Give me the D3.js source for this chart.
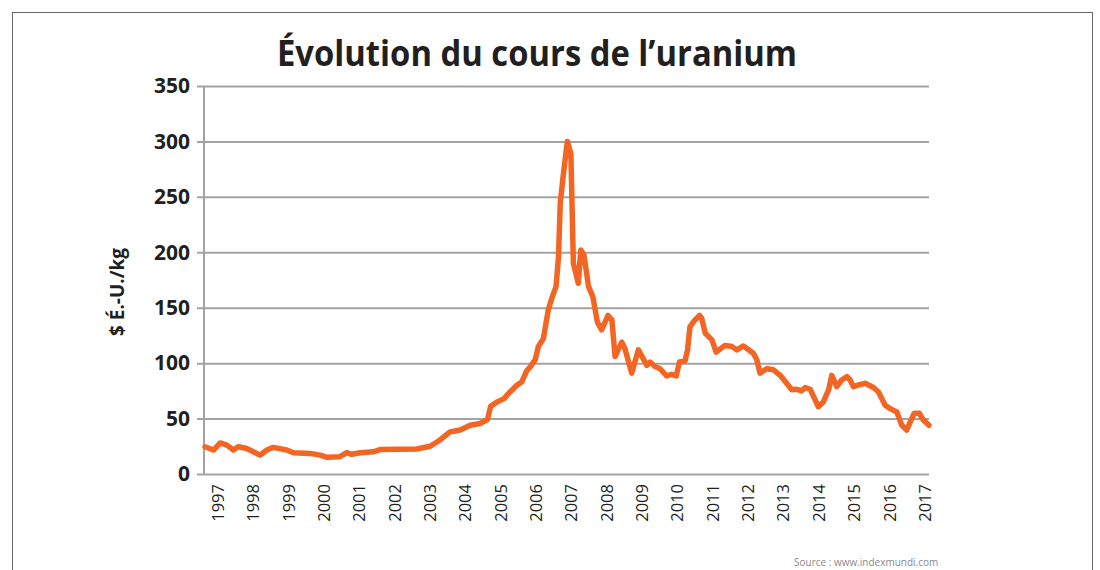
<!DOCTYPE html>
<html>
<head>
<meta charset="utf-8">
<script src="https://cdn.jsdelivr.net/npm/d3@7"></script>
<style>
  body { margin: 0; background: #fff; }
  svg { display: block; }
</style>
</head>
<body>
<div id="chart"></div>
<script>
// Uranium price ($/kg), x as decimal year
const years = [
    1996.63, 1996.87, 1997.06, 1997.25, 1997.43, 1997.57, 1997.81, 1998.00, 1998.19, 1998.38,
    1998.56, 1998.94, 1999.13, 1999.60, 1999.89, 2000.08, 2000.45, 2000.64, 2000.78, 2001.02,
    2001.39, 2001.58, 2002.62, 2003.00, 2003.28, 2003.56, 2003.85, 2004.13, 2004.41, 2004.62,
    2004.71, 2004.89, 2005.09, 2005.26, 2005.45, 2005.59, 2005.73, 2005.83, 2005.97, 2006.06,
    2006.20, 2006.34, 2006.44, 2006.56, 2006.63, 2006.68, 2006.77, 2006.88, 2006.98, 2007.05,
    2007.19, 2007.26, 2007.35, 2007.48, 2007.60, 2007.73, 2007.85, 2008.03, 2008.14, 2008.23,
    2008.42, 2008.51, 2008.70, 2008.89, 2009.13, 2009.22, 2009.36, 2009.50, 2009.69, 2009.83,
    2009.96, 2010.05, 2010.21, 2010.28, 2010.35, 2010.49, 2010.62, 2010.68, 2010.78, 2010.97,
    2011.09, 2011.34, 2011.53, 2011.67, 2011.86, 2012.14, 2012.24, 2012.33, 2012.52, 2012.71,
    2012.90, 2013.23, 2013.37, 2013.51, 2013.61, 2013.75, 2013.89, 2013.98, 2014.12, 2014.27,
    2014.36, 2014.50, 2014.64, 2014.79, 2014.88, 2014.97, 2015.11, 2015.30, 2015.54, 2015.68,
    2015.87, 2016.01, 2016.20, 2016.34, 2016.48, 2016.58, 2016.69, 2016.84, 2016.95, 2017.11
];
const prices = [
    24.6, 21.6, 28, 26, 21.6, 24.6, 23, 20, 17, 21.6,
    24, 21.6, 19.2, 18.6, 17, 15, 15.6, 19.2, 17.8, 19.2,
    20, 22, 22.5, 25, 30.7, 38, 39.7, 44, 45.5, 49,
    61, 65, 68, 74, 80, 83, 93, 96.6, 103, 115,
    122, 148, 158.5, 169, 196, 245, 271, 300, 289, 190,
    172, 202, 197.5, 169, 160, 137, 130, 143, 139, 106,
    119, 113, 91, 112, 98, 101, 97, 95, 88.4, 90,
    88.4, 101, 102, 112, 133, 139, 143, 140.5, 127, 121,
    110, 116, 115, 112, 115.5, 109, 103, 91, 95, 94,
    89, 76, 76.4, 75, 78, 76.4, 66.8, 60.7, 65, 75.8,
    89, 78.8, 84.8, 87.8, 84.8, 78.8, 80.3, 81.8, 78, 74,
    62, 59, 56, 44, 39.7, 47, 54.7, 54.7, 48.7, 44
];
const yTicks = [0, 50, 100, 150, 200, 250, 300, 350];
const yearLabels = d3.range(1997, 2018);

const data = years.map((yr, i) => ({ year: yr, price: prices[i] }));

const margin = { top: 86, right: 171, bottom: 96, left: 205 };
const width = 1100 - margin.left - margin.right;
const height = 570 - margin.top - margin.bottom;

const svg = d3.select('#chart')
    .append('svg')
    .attr('width', 1100)
    .attr('height', 570);

// frame
svg.append('rect')
    .attr('x', 12.5)
    .attr('y', 12.5)
    .attr('width', 1080)
    .attr('height', 600)
    .attr('fill', 'none')
    .attr('stroke', '#666')
    .attr('stroke-width', 1);

svg.append('text')
    .attr('x', 537)
    .attr('y', 66)
    .attr('text-anchor', 'middle')
    .attr('font-family', 'Open Sans')
    .attr('font-weight', 'bold')
    .attr('font-size', 35)
    .attr('textLength', 520)
    .attr('lengthAdjust', 'spacingAndGlyphs')
    .attr('fill', '#231f20')
    .text('Évolution du cours de l’uranium');

const g = svg.append('g')
    .attr('transform', `translate(${margin.left},${margin.top})`);

const x = d3.scaleLinear()
    .domain([1996.63, 2017.11])
    .range([0, width]);

const y = d3.scaleLinear()
    .domain([0, 350])
    .range([height, 0]);

// gridlines + left ticks
const yAxis = g.append('g')
    .call(d3.axisLeft(y).tickValues(yTicks).tickSize(-width - 1).tickSizeOuter(0).tickPadding(14))
    .attr('transform', 'translate(-1,0)');
yAxis.select('.domain').remove();
yAxis.selectAll('line')
    .attr('x1', -7)
    .attr('stroke', '#a3a3a3')
    .attr('stroke-width', 2);
yAxis.selectAll('text')
    .attr('font-family', 'Open Sans')
    .attr('font-weight', 'bold')
    .attr('font-size', 21)
    .attr('fill', '#231f20');

// vertical axis line
g.append('line')
    .attr('x1', -1).attr('x2', -1)
    .attr('y1', y(350)).attr('y2', y(0) + 1)
    .attr('stroke', '#a3a3a3')
    .attr('stroke-width', 2);

// year labels
g.append('g')
    .selectAll('text')
    .data(yearLabels)
    .enter()
    .append('text')
    .attr('transform', d => `translate(${x(d)},${height + 10}) rotate(-90)`)
    .attr('dy', '0.35em')
    .attr('text-anchor', 'end')
    .attr('font-family', 'Open Sans')
    .attr('font-size', 16.5)
    .attr('fill', '#231f20')
    .text(d => d);

const line = d3.line()
    .x(d => x(d.year))
    .y(d => y(d.price));

g.append('path')
    .datum(data)
    .attr('d', line)
    .attr('fill', 'none')
    .attr('stroke', '#f26522')
    .attr('stroke-width', 5.5)
    .attr('stroke-linejoin', 'round')
    .attr('stroke-linecap', 'round');

svg.append('text')
    .attr('transform', 'translate(124,292) rotate(-90)')
    .attr('text-anchor', 'middle')
    .attr('font-family', 'Open Sans')
    .attr('font-weight', 'bold')
    .attr('font-size', 19)
    .attr('fill', '#231f20')
    .text('$ É.-U./kg');

svg.append('text')
    .attr('x', 794)
    .attr('y', 566)
    .attr('font-family', 'Open Sans')
    .attr('font-size', 10)
    .attr('fill', '#8a8a8a')
    .text('Source : www.indexmundi.com');
</script>
</body>
</html>
